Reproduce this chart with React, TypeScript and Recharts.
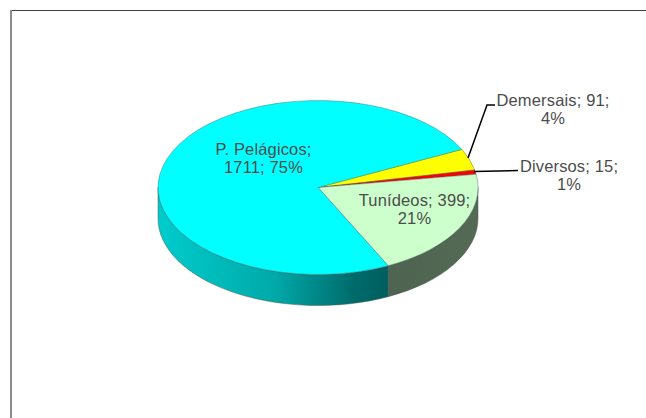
import { PieChart, Pie } from "recharts";

const categories = ["Demersais", "Diversos", "Tunídeos", "P. Pelágicos"];
const counts = [91, 15, 399, 1711];
const percents = [4, 1, 21, 75];
// slice sweep as drawn in the picture, the printed percents are rounded
const shares = [4, 0.8, 20.2, 75];
const topColors = ["#ffff00", "#ff0000", "#ccffcc", "#00ffff"];

const labelLines = [
  [`${categories[0]}; ${counts[0]};`, `${percents[0]}%`],
  [`${categories[1]}; ${counts[1]};`, `${percents[1]}%`],
  [`${categories[2]}; ${counts[2]};`, `${percents[2]}%`],
  [`${categories[3]};`, `${counts[3]}; ${percents[3]}%`],
];

const data = categories.map((name, i) => ({ name, value: shares[i], fill: topColors[i] }));

const CX = 318;
const CY = 187.5;
const RX = 160;
const RY = 87;
const DEPTH = 31;

const labelPos = [
  { x: 553, y: 105.5, leader: "468,158 487,105 495,105" },
  { x: 569, y: 171.5, leader: "474,171.5 518,170.5" },
  { x: 414.5, y: 205.5, leader: "" },
  { x: 263.5, y: 154.5, leader: "" },
];

const pt = (cx: number, cy: number, angle: number) => {
  const rad = (angle * Math.PI) / 180;
  return [cx + RX * Math.cos(rad), cy - RY * Math.sin(rad)];
};

function Slice(props: any) {
  const { cx, cy, startAngle, endAngle, fill, name } = props;
  const hi = Math.max(startAngle, endAngle);
  const lo = Math.min(startAngle, endAngle);
  const [x1, y1] = pt(cx, cy, hi);
  const [x2, y2] = pt(cx, cy, lo);
  const large = hi - lo > 180 ? 1 : 0;
  const top = `M${cx},${cy}L${x1},${y1}A${RX},${RY} 0 ${large} 1 ${x2},${y2}Z`;

  // only the front half of the rim has a visible wall
  const wallHi = Math.min(hi, 0);
  const wallLo = Math.max(lo, -180);
  let wall = null;
  if (wallHi > wallLo) {
    const [a1, b1] = pt(cx, cy, wallHi);
    const [a2, b2] = pt(cx, cy, wallLo);
    const d =
      `M${a1},${b1}A${RX},${RY} 0 0 1 ${a2},${b2}` +
      `L${a2},${b2 + DEPTH}A${RX},${RY} 0 0 0 ${a1},${b1 + DEPTH}Z`;
    const gradId = name === "P. Pelágicos" ? "wallCyan" : "wallGreen";
    wall = <path d={d} fill={`url(#${gradId})`} stroke="#4a5a5a" strokeWidth={0.5} />;
  }

  return (
    <g>
      <defs>
        <linearGradient id="wallCyan" x1="0" y1="0" x2="1" y2="0">
          <stop offset="0" stopColor="#00cccc" />
          <stop offset="0.5" stopColor="#00aaaa" />
          <stop offset="0.85" stopColor="#006b6b" />
          <stop offset="1" stopColor="#005e5e" />
        </linearGradient>
        <linearGradient id="wallGreen" x1="0" y1="0" x2="1" y2="0">
          <stop offset="0" stopColor="#4f6450" />
          <stop offset="1" stopColor="#546a55" />
        </linearGradient>
      </defs>
      {wall}
      <path d={top} fill={fill} stroke="#3f5f5f" strokeWidth={0.4} />
    </g>
  );
}

function SliceLabel(props: any) {
  const { index } = props;
  const pos = labelPos[index];
  return (
    <g>
      {pos.leader && <polyline points={pos.leader} fill="none" stroke="#000000" strokeWidth={1.5} />}
      <text
        textAnchor="middle"
        fill="#4c4c4c"
        fontFamily="'Liberation Sans', Arial, sans-serif"
        fontSize={16.5}
        letterSpacing={0.15}
      >
        <tspan x={pos.x} y={pos.y}>{labelLines[index][0]}</tspan>
        <tspan x={pos.x} y={pos.y + 18.5}>{labelLines[index][1]}</tspan>
      </text>
    </g>
  );
}

export default function App() {
  return (
    <div style={{ position: "absolute", left: 0, top: 0, width: 646, height: 418, background: "#ffffff", overflow: "hidden" }}>
      <div style={{ position: "absolute", left: 10, top: 10, right: 0, height: 1, background: "#404040" }} />
      <div style={{ position: "absolute", left: 10, top: 10, bottom: 0, width: 2, background: "#8c8c8c" }} />
      <PieChart width={646} height={418} margin={{ top: 0, right: 0, bottom: 0, left: 0 }}>
        <Pie
          data={data}
          dataKey="value"
          nameKey="name"
          cx={CX}
          cy={CY}
          innerRadius={0}
          outerRadius={RX}
          startAngle={26}
          endAngle={-334}
          paddingAngle={0}
          shape={Slice}
          label={SliceLabel}
          labelLine={false}
          isAnimationActive={false}
        />
      </PieChart>
    </div>
  );
}
